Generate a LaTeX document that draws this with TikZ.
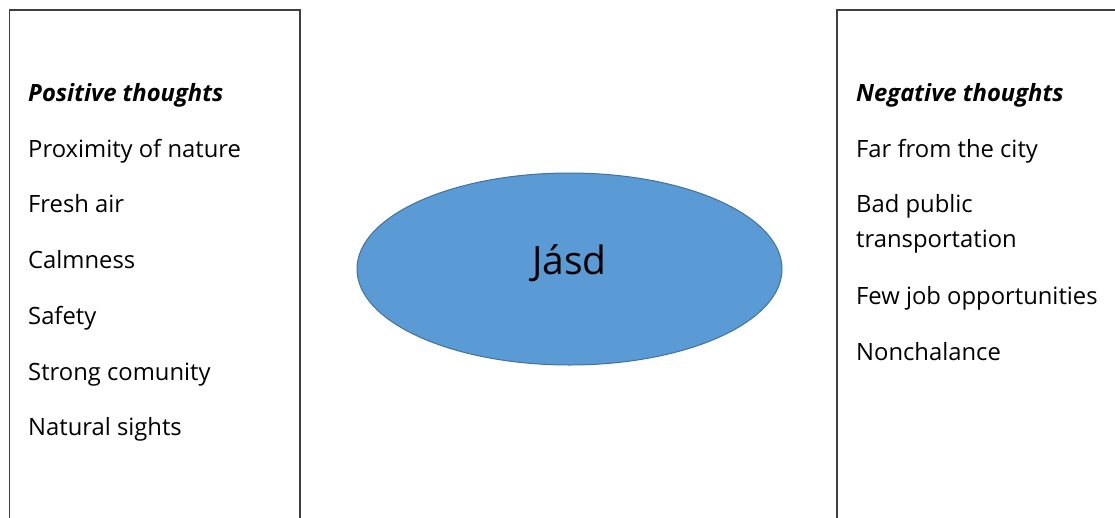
\documentclass[tikz,border=0pt]{standalone}
\usepackage{fontspec}
\setmainfont{Open Sans}
\usetikzlibrary{shapes.geometric}
\definecolor{ellfill}{HTML}{5B9BD5}
\definecolor{elldraw}{HTML}{41719C}
\definecolor{boxdraw}{HTML}{3F3F3F}
\begin{document}
\begin{tikzpicture}[x=1pt,y=-1pt,
  panel/.style={draw=boxdraw,line width=1.6pt},
  item/.style={anchor=base west,inner sep=0pt,font=\fontsize{23.8}{24}\selectfont},
  head/.style={item,font=\fontsize{23.8}{24}\selectfont\bfseries\itshape}]
\useasboundingbox (0,0) rectangle (1115,517);
\draw[panel] (9.5,530) -- (9.5,10) -- (300,10) -- (300,530);
\draw[panel] (1130,10) -- (837,10) -- (837,530);
\node[ellipse,draw=elldraw,fill=ellfill,line width=1pt,minimum width=425,minimum height=192,inner sep=0pt] (jasd) at (569.5,269) {};
\node[anchor=base,inner sep=0pt,font=\fontsize{39}{39}\selectfont] (jasdt) at (569.5,274) {Jásd};
\node[head] (ph) at (28,101) {Positive thoughts};
\node[item] (p1) at (28,157) {Proximity of nature};
\node[item] (p2) at (28,212) {Fresh air};
\node[item] (p3) at (28,268) {Calmness};
\node[item] (p4) at (28,324) {Safety};
\node[item] (p5) at (28,380) {Strong comunity};
\node[item] (p6) at (28,435) {Natural sights};
\node[head] (nh) at (856,101) {Negative thoughts};
\node[item] (n1) at (856,157) {Far from the city};
\node[item] (n2) at (856,212) {Bad public};
\node[item] (n2b) at (856,247) {transportation};
\node[item] (n3) at (856,304) {Few job opportunities};
\node[item] (n4) at (856,360) {Nonchalance};
\end{tikzpicture}
\end{document}
